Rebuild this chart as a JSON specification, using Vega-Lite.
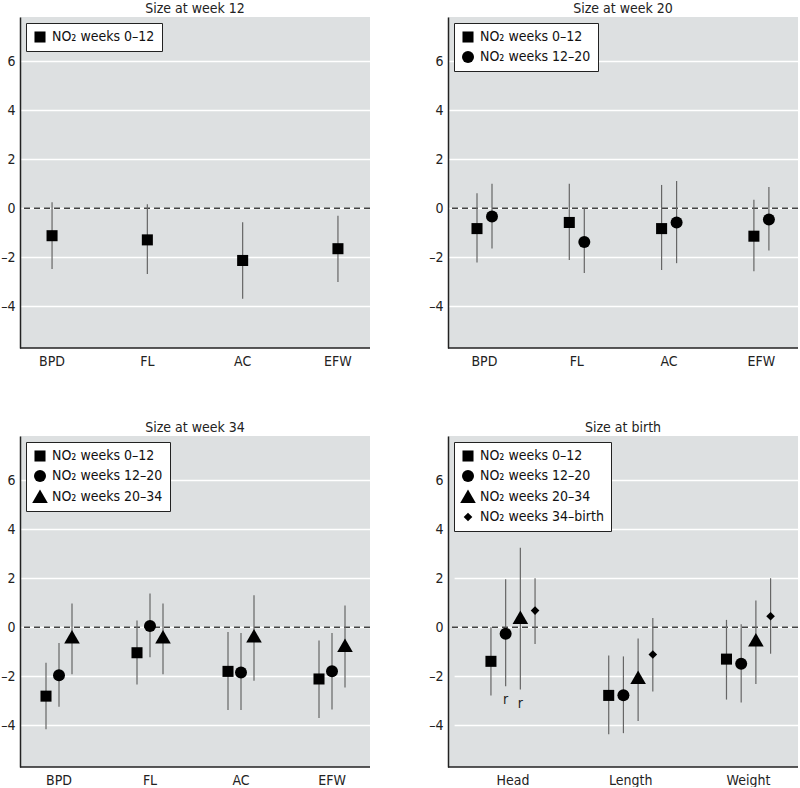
{
  "$schema": "https://vega.github.io/schema/vega-lite/v6.json",
  "padding": {"left": 0, "top": 2, "right": 0, "bottom": 0},
  "background": "white",
  "datasets": {
    "d": [
      {"panel": "w12", "cat": "BPD", "series": "NO₂ weeks 0–12", "est": -1.12, "lo": -2.48, "hi": 0.24, "note": ""},
      {"panel": "w12", "cat": "FL", "series": "NO₂ weeks 0–12", "est": -1.29, "lo": -2.68, "hi": 0.16, "note": ""},
      {"panel": "w12", "cat": "AC", "series": "NO₂ weeks 0–12", "est": -2.13, "lo": -3.69, "hi": -0.57, "note": ""},
      {"panel": "w12", "cat": "EFW", "series": "NO₂ weeks 0–12", "est": -1.65, "lo": -3.01, "hi": -0.31, "note": ""},

      {"panel": "w20", "cat": "BPD", "series": "NO₂ weeks 0–12", "est": -0.83, "lo": -2.21, "hi": 0.61, "note": ""},
      {"panel": "w20", "cat": "BPD", "series": "NO₂ weeks 12–20", "est": -0.34, "lo": -1.64, "hi": 1.0, "note": ""},
      {"panel": "w20", "cat": "FL", "series": "NO₂ weeks 0–12", "est": -0.58, "lo": -2.11, "hi": 1.0, "note": ""},
      {"panel": "w20", "cat": "FL", "series": "NO₂ weeks 12–20", "est": -1.38, "lo": -2.64, "hi": 0.0, "note": ""},
      {"panel": "w20", "cat": "AC", "series": "NO₂ weeks 0–12", "est": -0.83, "lo": -2.52, "hi": 0.95, "note": ""},
      {"panel": "w20", "cat": "AC", "series": "NO₂ weeks 12–20", "est": -0.58, "lo": -2.24, "hi": 1.11, "note": ""},
      {"panel": "w20", "cat": "EFW", "series": "NO₂ weeks 0–12", "est": -1.14, "lo": -2.57, "hi": 0.35, "note": ""},
      {"panel": "w20", "cat": "EFW", "series": "NO₂ weeks 12–20", "est": -0.46, "lo": -1.72, "hi": 0.87, "note": ""},

      {"panel": "w34", "cat": "BPD", "series": "NO₂ weeks 0–12", "est": -2.81, "lo": -4.16, "hi": -1.45, "note": ""},
      {"panel": "w34", "cat": "BPD", "series": "NO₂ weeks 12–20", "est": -1.96, "lo": -3.24, "hi": -0.64, "note": ""},
      {"panel": "w34", "cat": "BPD", "series": "NO₂ weeks 20–34", "est": -0.42, "lo": -1.92, "hi": 0.97, "note": ""},
      {"panel": "w34", "cat": "FL", "series": "NO₂ weeks 0–12", "est": -1.04, "lo": -2.34, "hi": 0.27, "note": ""},
      {"panel": "w34", "cat": "FL", "series": "NO₂ weeks 12–20", "est": 0.05, "lo": -1.22, "hi": 1.38, "note": ""},
      {"panel": "w34", "cat": "FL", "series": "NO₂ weeks 20–34", "est": -0.42, "lo": -1.92, "hi": 0.97, "note": ""},
      {"panel": "w34", "cat": "AC", "series": "NO₂ weeks 0–12", "est": -1.80, "lo": -3.38, "hi": -0.19, "note": ""},
      {"panel": "w34", "cat": "AC", "series": "NO₂ weeks 12–20", "est": -1.85, "lo": -3.38, "hi": -0.23, "note": ""},
      {"panel": "w34", "cat": "AC", "series": "NO₂ weeks 20–34", "est": -0.38, "lo": -2.18, "hi": 1.30, "note": ""},
      {"panel": "w34", "cat": "EFW", "series": "NO₂ weeks 0–12", "est": -2.11, "lo": -3.70, "hi": -0.54, "note": ""},
      {"panel": "w34", "cat": "EFW", "series": "NO₂ weeks 12–20", "est": -1.79, "lo": -3.35, "hi": -0.23, "note": ""},
      {"panel": "w34", "cat": "EFW", "series": "NO₂ weeks 20–34", "est": -0.76, "lo": -2.46, "hi": 0.89, "note": ""},

      {"panel": "birth", "cat": "Head", "series": "NO₂ weeks 0–12", "est": -1.39, "lo": -2.78, "hi": 0.0, "note": ""},
      {"panel": "birth", "cat": "Head", "series": "NO₂ weeks 12–20", "est": -0.27, "lo": -2.41, "hi": 1.96, "note": "r"},
      {"panel": "birth", "cat": "Head", "series": "NO₂ weeks 20–34", "est": 0.38, "lo": -2.54, "hi": 3.24, "note": "r"},
      {"panel": "birth", "cat": "Head", "series": "NO₂ weeks 34–birth", "est": 0.68, "lo": -0.68, "hi": 2.0, "note": ""},
      {"panel": "birth", "cat": "Length", "series": "NO₂ weeks 0–12", "est": -2.78, "lo": -4.36, "hi": -1.15, "note": ""},
      {"panel": "birth", "cat": "Length", "series": "NO₂ weeks 12–20", "est": -2.77, "lo": -4.32, "hi": -1.19, "note": ""},
      {"panel": "birth", "cat": "Length", "series": "NO₂ weeks 20–34", "est": -2.07, "lo": -3.82, "hi": -0.46, "note": ""},
      {"panel": "birth", "cat": "Length", "series": "NO₂ weeks 34–birth", "est": -1.11, "lo": -2.62, "hi": 0.38, "note": ""},
      {"panel": "birth", "cat": "Weight", "series": "NO₂ weeks 0–12", "est": -1.30, "lo": -2.95, "hi": 0.30, "note": ""},
      {"panel": "birth", "cat": "Weight", "series": "NO₂ weeks 12–20", "est": -1.49, "lo": -3.07, "hi": 0.12, "note": ""},
      {"panel": "birth", "cat": "Weight", "series": "NO₂ weeks 20–34", "est": -0.54, "lo": -2.31, "hi": 1.09, "note": ""},
      {"panel": "birth", "cat": "Weight", "series": "NO₂ weeks 34–birth", "est": 0.45, "lo": -1.08, "hi": 2.0, "note": ""}
    ]
  },
  "columns": 2,
  "spacing": {"column": 26, "row": 53},
  "resolve": {"scale": {"shape": "independent", "x": "independent", "y": "independent", "xOffset": "independent"}, "legend": {"shape": "independent"}},
  "concat": [
    {
      "width": 350, "height": 331,
      "title": {"text": "Size at week 12"},
      "data": {"name": "d"},
      "transform": [{"filter": "datum.panel === 'w12'"}],
      "layer": [
        {"data": {"values": [{}]}, "mark": {"type": "rule", "color": "#222", "strokeWidth": 1.5},
         "encoding": {"y": {"datum": -5.7, "scale": {"domain": [-5.7, 7.8], "nice": false, "zero": false}, "axis": {"values": [-4, -2, 0, 2, 4, 6], "title": null, "labelExpr": "replace(datum.label, '−', '–')"}}}},
        {"data": {"values": [{}]}, "mark": {"type": "rule", "color": "#444", "strokeWidth": 1.3, "strokeDash": [6, 4]},
         "encoding": {"y": {"datum": 0}}},
        {"mark": {"type": "rule", "color": "#666", "strokeWidth": 1.2},
         "encoding": {
           "x": {"field": "cat", "type": "nominal", "sort": ["BPD", "FL", "AC", "EFW"], "scale": {"type": "band", "range": [-15.6, 365.6], "paddingInner": 0, "paddingOuter": 0}, "axis": {"title": null}},
           "y": {"field": "lo", "type": "quantitative", "title": null},
           "y2": {"field": "hi"}}},
        {"mark": {"type": "point", "filled": true, "color": "black", "opacity": 1, "size": 144},
         "encoding": {
           "x": {"field": "cat", "type": "nominal", "sort": ["BPD", "FL", "AC", "EFW"]},
           "y": {"field": "est", "type": "quantitative", "title": null},
           "shape": {"field": "series", "type": "nominal", "scale": {"domain": ["NO₂ weeks 0–12"], "range": ["M-0.92,-0.92H0.92V0.92H-0.92Z"]}, "legend": {"title": null}}}}
      ]
    },
    {
      "width": 350, "height": 331,
      "title": {"text": "Size at week 20"},
      "data": {"name": "d"},
      "transform": [{"filter": "datum.panel === 'w20'"}],
      "layer": [
        {"data": {"values": [{}]}, "mark": {"type": "rule", "color": "#222", "strokeWidth": 1.5},
         "encoding": {"y": {"datum": -5.7, "scale": {"domain": [-5.7, 7.8], "nice": false, "zero": false}, "axis": {"values": [-4, -2, 0, 2, 4, 6], "title": null, "labelExpr": "replace(datum.label, '−', '–')"}}}},
        {"data": {"values": [{}]}, "mark": {"type": "rule", "color": "#444", "strokeWidth": 1.3, "strokeDash": [6, 4]},
         "encoding": {"y": {"datum": 0}}},
        {"mark": {"type": "rule", "color": "#666", "strokeWidth": 1.2},
         "encoding": {
           "x": {"field": "cat", "type": "nominal", "sort": ["BPD", "FL", "AC", "EFW"], "scale": {"type": "band", "range": [-9.7, 359.5], "paddingInner": 0, "paddingOuter": 0}, "axis": {"title": null}},
           "xOffset": {"field": "series", "type": "nominal", "scale": {"domain": ["NO₂ weeks 0–12", "NO₂ weeks 12–20"], "range": [31.2, 61.2], "paddingInner": 0, "paddingOuter": 0}},
           "y": {"field": "lo", "type": "quantitative", "title": null},
           "y2": {"field": "hi"}}},
        {"mark": {"type": "point", "filled": true, "color": "black", "opacity": 1, "size": 144},
         "encoding": {
           "x": {"field": "cat", "type": "nominal", "sort": ["BPD", "FL", "AC", "EFW"]},
           "xOffset": {"field": "series", "type": "nominal"},
           "y": {"field": "est", "type": "quantitative", "title": null},
           "shape": {"field": "series", "type": "nominal", "scale": {"domain": ["NO₂ weeks 0–12", "NO₂ weeks 12–20"], "range": ["M-0.92,-0.92H0.92V0.92H-0.92Z", "circle"]}, "legend": {"title": null}}}}
      ]
    },
    {
      "width": 350, "height": 331,
      "title": {"text": "Size at week 34"},
      "data": {"name": "d"},
      "transform": [{"filter": "datum.panel === 'w34'"}],
      "layer": [
        {"data": {"values": [{}]}, "mark": {"type": "rule", "color": "#222", "strokeWidth": 1.5},
         "encoding": {"y": {"datum": -5.7, "scale": {"domain": [-5.7, 7.8], "nice": false, "zero": false}, "axis": {"values": [-4, -2, 0, 2, 4, 6], "title": null, "labelExpr": "replace(datum.label, '−', '–')"}}}},
        {"data": {"values": [{}]}, "mark": {"type": "rule", "color": "#444", "strokeWidth": 1.3, "strokeDash": [6, 4]},
         "encoding": {"y": {"datum": 0}}},
        {"mark": {"type": "rule", "color": "#666", "strokeWidth": 1.2},
         "encoding": {
           "x": {"field": "cat", "type": "nominal", "sort": ["BPD", "FL", "AC", "EFW"], "scale": {"type": "band", "range": [-6.5, 357.5], "paddingInner": 0, "paddingOuter": 0}, "axis": {"title": null}},
           "xOffset": {"field": "series", "type": "nominal", "scale": {"domain": ["NO₂ weeks 0–12", "NO₂ weeks 12–20", "NO₂ weeks 20–34"], "range": [26, 65], "paddingInner": 0, "paddingOuter": 0}},
           "y": {"field": "lo", "type": "quantitative", "title": null},
           "y2": {"field": "hi"}}},
        {"mark": {"type": "point", "filled": true, "color": "black", "opacity": 1, "size": 144},
         "encoding": {
           "x": {"field": "cat", "type": "nominal", "sort": ["BPD", "FL", "AC", "EFW"]},
           "xOffset": {"field": "series", "type": "nominal"},
           "y": {"field": "est", "type": "quantitative", "title": null},
           "shape": {"field": "series", "type": "nominal", "scale": {"domain": ["NO₂ weeks 0–12", "NO₂ weeks 12–20", "NO₂ weeks 20–34"], "range": ["M-0.92,-0.92H0.92V0.92H-0.92Z", "circle", "M0,-1.25L1.3,1.0L-1.3,1.0Z"]}, "legend": {"title": null}}}}
      ]
    },
    {
      "width": 350, "height": 331,
      "title": {"text": "Size at birth"},
      "data": {"name": "d"},
      "transform": [{"filter": "datum.panel === 'birth'"}],
      "layer": [
        {"data": {"values": [{}]}, "mark": {"type": "rule", "color": "#222", "strokeWidth": 1.5},
         "encoding": {"y": {"datum": -5.7, "scale": {"domain": [-5.7, 7.8], "nice": false, "zero": false}, "axis": {"values": [-4, -2, 0, 2, 4, 6], "title": null, "labelExpr": "replace(datum.label, '−', '–')"}}}},
        {"data": {"values": [{}]}, "mark": {"type": "rule", "color": "#444", "strokeWidth": 1.3, "strokeDash": [6, 4]},
         "encoding": {"y": {"datum": 0}}},
        {"mark": {"type": "rule", "color": "#666", "strokeWidth": 1.2},
         "encoding": {
           "x": {"field": "cat", "type": "nominal", "sort": ["Head", "Length", "Weight"], "scale": {"type": "band", "range": [6.1, 359.4], "paddingInner": 0, "paddingOuter": 0}, "axis": {"title": null}},
           "xOffset": {"field": "series", "type": "nominal", "scale": {"domain": ["NO₂ weeks 0–12", "NO₂ weeks 12–20", "NO₂ weeks 20–34", "NO₂ weeks 34–birth"], "range": [29.5, 88.3], "paddingInner": 0, "paddingOuter": 0}},
           "y": {"field": "lo", "type": "quantitative", "title": null},
           "y2": {"field": "hi"}}},
        {"mark": {"type": "point", "filled": true, "color": "black", "opacity": 1, "size": 144},
         "encoding": {
           "x": {"field": "cat", "type": "nominal", "sort": ["Head", "Length", "Weight"]},
           "xOffset": {"field": "series", "type": "nominal"},
           "y": {"field": "est", "type": "quantitative", "title": null},
           "shape": {"field": "series", "type": "nominal", "scale": {"domain": ["NO₂ weeks 0–12", "NO₂ weeks 12–20", "NO₂ weeks 20–34", "NO₂ weeks 34–birth"], "range": ["M-0.92,-0.92H0.92V0.92H-0.92Z", "circle", "M0,-1.25L1.3,1.0L-1.3,1.0Z", "M0,-0.72L0.72,0L0,0.72L-0.72,0Z"]}, "legend": {"title": null}}}},
        {"transform": [{"filter": "datum.note !== ''"}],
         "mark": {"type": "text", "baseline": "top", "dy": 7, "fontSize": 14, "color": "#222"},
         "encoding": {
           "x": {"field": "cat", "type": "nominal", "sort": ["Head", "Length", "Weight"]},
           "xOffset": {"field": "series", "type": "nominal"},
           "y": {"field": "lo", "type": "quantitative", "title": null},
           "text": {"field": "note"}}}
      ]
    }
  ],
  "config": {
    "font": "DejaVu Sans Condensed, DejaVu Sans, sans-serif",
    "view": {"fill": "#dde0e1", "stroke": null},
    "title": {"fontSize": 14, "fontWeight": "normal", "color": "#222", "offset": 1},
    "axisY": {"domain": true, "domainColor": "#222", "domainWidth": 1.5, "ticks": false, "grid": true, "gridColor": "white", "gridWidth": 1.5, "labelFontSize": 14, "labelPadding": 5, "labelColor": "#222"},
    "axisX": {"domain": false, "ticks": false, "grid": false, "labelFontSize": 14, "labelPadding": 6, "labelAngle": 0, "labelColor": "#222"},
    "legend": {"orient": "top-left", "offset": 6, "fillColor": "white", "strokeColor": "#222", "strokeWidth": 1, "padding": 7, "labelFontSize": 14, "labelColor": "#111", "symbolSize": 144, "symbolFillColor": "black", "symbolStrokeWidth": 0, "symbolStrokeColor": "black", "rowPadding": 6, "cornerRadius": 0, "labelOffset": 5}
  }
}
